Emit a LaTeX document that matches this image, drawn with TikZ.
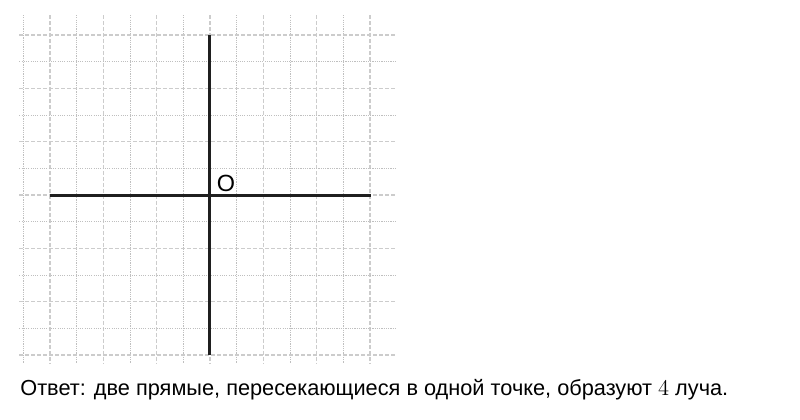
\documentclass[tikz,border=0pt]{standalone}
\usepackage{fontspec}
\setmainfont{Liberation Sans}
\usetikzlibrary{calc}
\tikzset{
  gridA/.style={line width=0.6pt, color=black!20, dash pattern=on 2pt off 1.2pt},
  gridB/.style={line width=0.5pt, color=black!25, dash pattern=on 0.6pt off 0.6pt},
  ray/.style={line width=1.6pt, color=black!88},
  txt/.style={anchor=base west, inner sep=0, font=\fontsize{11.6}{14}\selectfont},
}
\begin{document}
\begin{tikzpicture}[x=0.5cm, y=0.5cm]
		%%%%% START %%%%%
		\useasboundingbox (-7.875, -8.4375) rectangle (22.125, 7.3125);
		
		% grid
		\foreach \i in {-7,...,6} {
			\pgfmathsetmacro{\odd}{int(mod(\i+7,2))}
			\ifnum\odd=1
				\draw[gridA] (\i, 6.75) -- (\i, -6.3);
			\else
				\draw[gridB] (\i, 6.75) -- (\i, -6.3);
			\fi
		}
		\foreach \j in {-6,...,6} {
			\pgfmathsetmacro{\odd}{int(mod(\j+6,2))}
			\ifnum\odd=0
				\draw[gridA] (-7.15, \j) -- (6.95, \j);
			\else
				\draw[gridB] (-7.15, \j) -- (6.95, \j);
			\fi
		}
		
		% two lines through O
		\coordinate (O) at (0, 0);
		\coordinate (left) at (-6, 0);
		\coordinate (right) at (6.05, 0);
		\coordinate (top) at (0, 6);
		\coordinate (bottom) at (0, -6);
		\draw[ray] (left) -- (right);
		\draw[ray] (top) -- (bottom);
		
		\node[txt, font=\fontsize{12.5}{14}\selectfont] (labelO) at (0.24, 0.13) {O};
		
		\node[txt] (answer) at (-7.125, -7.5)
			{Ответ: две прямые, пересекающиеся в одной точке, образуют $4$ луча.};
		%%%%% END %%%%%
\end{tikzpicture}
\end{document}
